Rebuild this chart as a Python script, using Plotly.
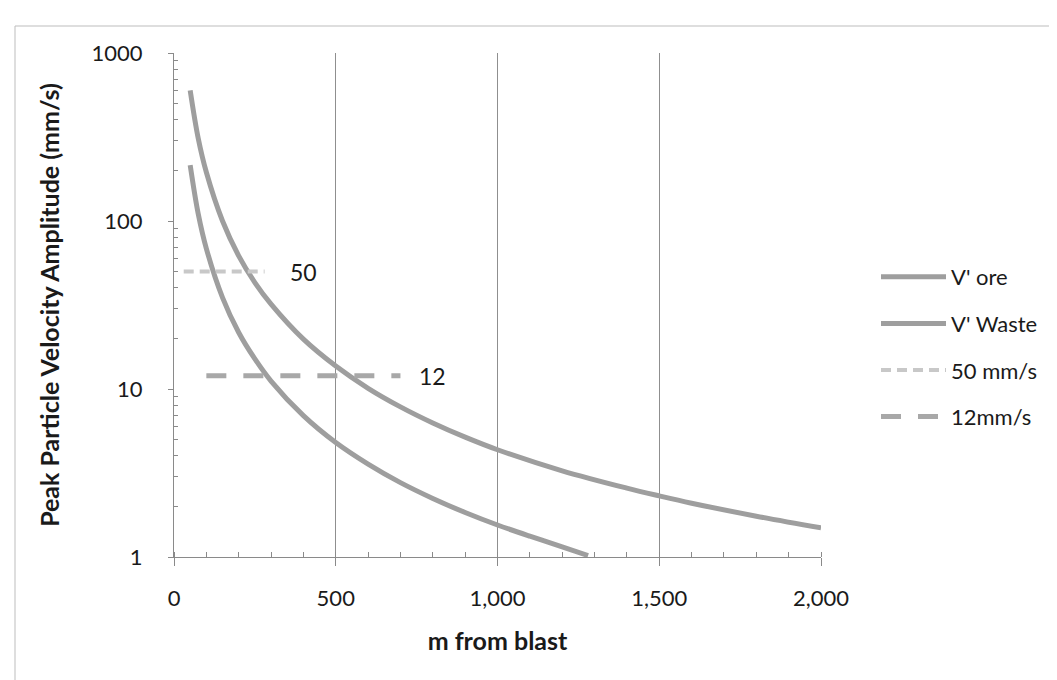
import plotly.graph_objects as go
import math

# ---- data ----
dist_waste = [50, 75, 100, 150, 200, 250, 300, 400, 500, 600, 700, 800, 900,
              1000, 1200, 1400, 1500, 1600, 1800, 2000]
ppv_waste = [600, 310, 195, 100, 62, 43, 32, 19.8, 13.7, 10.1, 7.83, 6.28, 5.17,
             4.35, 3.26, 2.57, 2.31, 2.09, 1.75, 1.49]

dist_ore = [50, 75, 100, 150, 200, 250, 300, 400, 500, 600, 700, 800, 900,
            1000, 1100, 1200, 1280]
ppv_ore = [215, 110, 68.5, 35, 21.7, 15.1, 11.15, 6.94, 4.8, 3.57, 2.77, 2.23, 1.84,
           1.55, 1.33, 1.15, 1.02]

limit50_x = [30, 280]
limit50_y = [50, 50]
limit12_x = [100, 700]
limit12_y = [12, 12]

x_ticks = [0, 500, 1000, 1500, 2000]
x_ticklabels = ["0", "500", "1,000", "1,500", "2,000"]
y_ticks = [1, 10, 100, 1000]
y_ticklabels = ["1", "10", "100", "1000"]

FONT = "Lato"
TXT = "#1a1a1a"

fig = go.Figure()
fig.add_trace(go.Scatter(x=dist_ore, y=ppv_ore, mode="lines", name="V' ore",
                         line=dict(color="#9e9e9e", width=5, shape="spline"),
                         legendgroup="a"))
fig.add_trace(go.Scatter(x=dist_waste, y=ppv_waste, mode="lines", name="V' Waste",
                         line=dict(color="#9e9e9e", width=5, shape="spline"),
                         legendgroup="b"))
fig.add_trace(go.Scatter(x=limit50_x, y=limit50_y, mode="lines", name="50 mm/s",
                         line=dict(color="#c8c8c8", width=4, dash="10px,6px"),
                         legendgroup="c"))
fig.add_trace(go.Scatter(x=limit12_x, y=limit12_y, mode="lines", name="12mm/s",
                         line=dict(color="#a8a8a8", width=5, dash="20px,17px"),
                         legendgroup="d"))

fig.add_annotation(x=400, y=math.log10(50), text="50", showarrow=False,
                   font=dict(family=FONT, size=23, color=TXT))
fig.add_annotation(x=800, y=math.log10(12), text="12", showarrow=False,
                   font=dict(family=FONT, size=23, color=TXT))

# outer chart border
fig.add_shape(type="rect", xref="paper", yref="paper",
              x0=(7 - 166) / 647, x1=(1052 - 166) / 647,
              y0=(549 - 677) / 504, y1=(549 - 18) / 504,
              line=dict(color="#bdbdbd", width=1), layer="below")

fig.update_layout(
    width=1057, height=680,
    margin=dict(l=166, r=244, t=45, b=131),
    paper_bgcolor="white", plot_bgcolor="white",
    font=dict(family=FONT, size=22, color=TXT),
    showlegend=True,
    legend=dict(x=(868 - 166) / 647, y=(549 - 248) / 504, xanchor="left", yanchor="top",
                traceorder="grouped", tracegroupgap=15, itemwidth=65,
                font=dict(family=FONT, size=22, color=TXT),
                bgcolor="rgba(0,0,0,0)"),
)

fig.update_xaxes(
    range=[0, 2000], tickvals=x_ticks, ticktext=x_ticklabels,
    tickfont=dict(family=FONT, size=22, color=TXT),
    showline=True, linecolor="#8a8a8a", linewidth=1,
    showgrid=True, gridcolor="#8f8f8f", gridwidth=1,
    ticks="outside", ticklen=8, tickcolor="#8a8a8a",
    ticklabelstandoff=14,
    minor=dict(dtick=100, ticks="inside", ticklen=5, tickcolor="#8a8a8a", showgrid=False),
    zeroline=False,
    title=dict(text="<b>m from blast</b>", standoff=22,
               font=dict(family=FONT, size=25, color=TXT)),
)
fig.update_yaxes(
    type="log", range=[0, 3], tickvals=y_ticks, ticktext=y_ticklabels,
    tickfont=dict(family=FONT, size=22, color=TXT),
    showline=True, linecolor="#8a8a8a", linewidth=1,
    showgrid=False,
    ticks="outside", ticklen=5, tickcolor="#8a8a8a",
    ticklabelstandoff=21,
    minor=dict(tickvals=[a * b for b in (1, 10, 100) for a in range(2, 10)],
               ticks="inside", ticklen=4, tickcolor="#8a8a8a", showgrid=False),
    zeroline=False,
    title=dict(text="<b>Peak Particle Velocity Amplitude (mm/s)</b>", standoff=24,
               font=dict(family=FONT, size=25, color=TXT)),
)

fig.write_html("out.html")
